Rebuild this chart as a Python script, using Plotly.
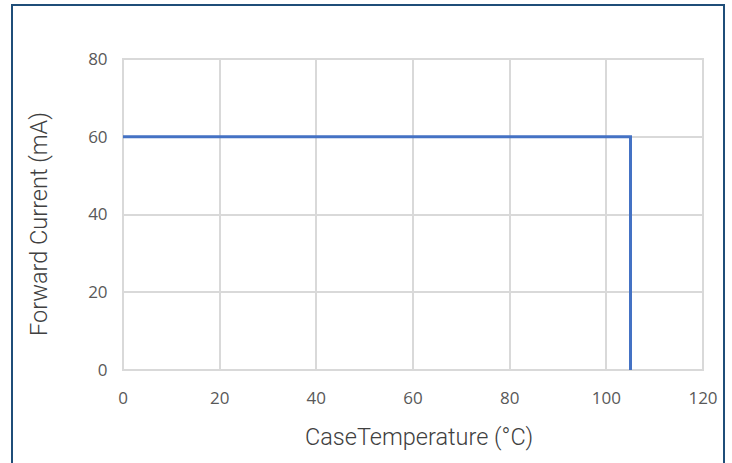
import plotly.graph_objects as go

case_temp = [0, 105, 105]
forward_current = [60, 60, 0]

x_ticks = [0, 20, 40, 60, 80, 100, 120]
y_ticks = [0, 20, 40, 60, 80]

x_title = "CaseTemperature (°C)"
y_title = "Forward Current (mA)"

L, R, T, B = 123, 29, 59, 93
W, H = 732, 463
pw, ph = W - L - R, H - T - B

fig = go.Figure()
fig.add_trace(go.Scatter(x=case_temp, y=forward_current, mode="lines",
                         line=dict(color="#4472C4", width=3), showlegend=False))

tickfont = dict(family="Open Sans, Noto Sans, sans-serif", size=17, color="#595959")
titlefont = dict(family="Roboto, sans-serif", size=23.5, color="#404040", weight=300)

fig.update_layout(
    width=W, height=H,
    margin=dict(l=L, r=R, t=T, b=B),
    paper_bgcolor="white", plot_bgcolor="white",
    xaxis=dict(range=[0, 120], tickvals=x_ticks, showgrid=True, gridcolor="#D9D9D9", gridwidth=2,
               zeroline=False, showline=False, tickfont=tickfont,
               ticks="outside", ticklen=13, tickcolor="rgba(0,0,0,0)"),
    yaxis=dict(range=[0, 80], tickvals=y_ticks, showgrid=True, gridcolor="#D9D9D9", gridwidth=2,
               zeroline=False, showline=False, tickfont=tickfont,
               ticks="outside", ticklen=11, tickcolor="rgba(0,0,0,0)"),
)

# axis titles positioned as in the reference
fig.add_annotation(text=x_title, font=titlefont, showarrow=False,
                   xref="paper", yref="paper", x=(418.5 - L) / pw, y=(H - B - 437) / ph,
                   xanchor="center", yanchor="middle")
fig.add_annotation(text=y_title, font=titlefont, showarrow=False, textangle=-90,
                   xref="paper", yref="paper", x=(39 - L) / pw, y=(H - B - 224) / ph,
                   xanchor="center", yanchor="middle")

# plot-area frame
fig.add_shape(type="rect", xref="paper", yref="paper", x0=0, x1=1, y0=0, y1=1,
              line=dict(color="#D9D9D9", width=2), layer="below")

# outer chart border
fig.add_shape(type="rect", xref="paper", yref="paper",
              x0=(12 - L) / pw, x1=(724 - L) / pw,
              y0=(H - B - 470) / ph, y1=(H - B - 5) / ph,
              line=dict(color="#1F4E79", width=2))

fig.write_html("out.html")
